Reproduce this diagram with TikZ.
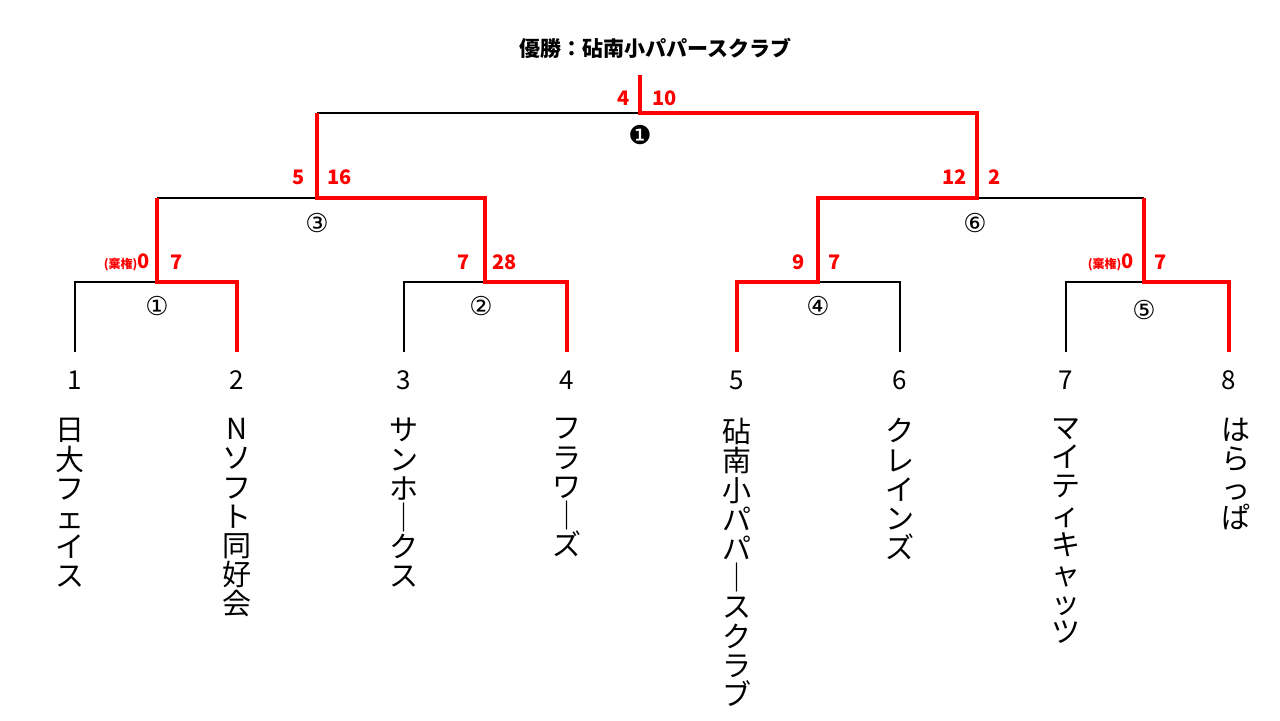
\documentclass[tikz,border=0pt]{standalone}
\usepackage{fontspec}
\setmainfont{Noto Sans CJK JP}
\newfontfamily\djv{DejaVu Sans}
\begin{document}
\begin{tikzpicture}[x=0.5pt,y=-0.5pt,
  bk/.style={line width=1.1pt,black},
  rd/.style={line width=1.6pt,red},
  sc/.style={text=red,font=\fontsize{10}{12}\selectfont\bfseries,inner sep=0pt},
  num/.style={font=\fontsize{13}{15}\selectfont,inner sep=0pt},
  cn/.style={font=\fontsize{13}{15}\selectfont,inner sep=0pt},
  team/.style={font=\fontsize{14.5}{14.6}\selectfont,align=center,anchor=north,inner sep=0pt}]
\useasboundingbox (0,0) rectangle (1280,720);
% leaves
\foreach \i/\x in {1/75,2/237,3/404,4/567,5/737,6/900,7/1066,8/1229}{
  \coordinate (t\i) at (\x,282); \coordinate (b\i) at (\x,352);
  \node[num] (n\i) at (\x,380) {\i};}
\coordinate (m1) at (157,282); \coordinate (m1u) at (157,198);
\coordinate (m2) at (485,282); \coordinate (m2u) at (485,198);
\coordinate (m4) at (818,282); \coordinate (m4u) at (818,198);
\coordinate (m5) at (1144,282); \coordinate (m5u) at (1144,198);
\coordinate (m3) at (317,198); \coordinate (m3u) at (317,113);
\coordinate (m6) at (977,198); \coordinate (m6u) at (977,113);
\coordinate (f) at (640,113); \coordinate (fu) at (640,75);
% black
\draw[bk] (b1)--(t1)--(m1);
\draw[bk] (b3)--(t3)--(m2);
\draw[bk] (m1u)--(m3);
\draw[bk] (m4)--(t6)--(b6);
\draw[bk] (b7)--(t7)--(m5);
\draw[bk] (m6)--(m5u);
\draw[bk] (m3u)--(f);
% red
\draw[rd] (b2)--(t2)--(m1)--(m1u);
\draw[rd] (b4)--(t4)--(m2)--(m2u)--(m3)--(m3u);
\draw[rd] (b5)--(t5)--(m4)--(m4u)--(m6)--(m6u)--(f)--(fu);
\draw[rd] (b8)--(t8)--(m5)--(m5u);
% match numbers
\node[cn] (c1) at (157,306) {\djv ①};
\node[cn] (c2) at (481,306) {\djv ②};
\node[cn] (c3) at (317,223) {\djv ③};
\node[cn] (c4) at (818,306) {\djv ④};
\node[cn] (c5) at (1144,310) {\djv ⑤};
\node[cn] (c6) at (975,223) {\djv ⑥};
\node[cn] (c7) at (640,135) {\djv ❶};
% scores
\node[sc,anchor=east] (s1) at (150,262) {{\fontsize{6}{7}\selectfont(棄権)}0};
\node[sc,anchor=west] (s2) at (170,262) {7};
\node[sc,anchor=east] (s3) at (470,262) {7};
\node[sc,anchor=west] (s4) at (492,262) {28};
\node[sc,anchor=east] (s5) at (805,262) {9};
\node[sc,anchor=west] (s6) at (828,262) {7};
\node[sc,anchor=east] (s7) at (1134,262) {{\fontsize{6}{7}\selectfont(棄権)}0};
\node[sc,anchor=west] (s8) at (1154,262) {7};
\node[sc,anchor=east] (s9) at (305,177) {5};
\node[sc,anchor=west] (s10) at (327,177) {16};
\node[sc,anchor=east] (s11) at (967,177) {12};
\node[sc,anchor=west] (s12) at (988,177) {2};
\node[sc,anchor=east] (s13) at (630,98) {4};
\node[sc,anchor=west] (s14) at (652,98) {10};
\node[font=\fontsize{10.5}{12}\selectfont\bfseries,inner sep=0pt] (title) at (655,48) {優勝：砧南小パパースクラブ};
% teams
\node[team] (w1) at (70,418) {日\\大\\フ\\ェ\\イ\\ス};
\node[team] (w2) at (237,418) {N\\ソ\\フ\\ト\\同\\好\\会};
\node[team] (w3) at (404,418) {サ\\ン\\ホ\\｜\\ク\\ス};
\node[team] (w4) at (567,418) {フ\\ラ\\ワ\\｜\\ズ};
\node[team] (w5) at (737,418) {砧\\南\\小\\パ\\パ\\｜\\ス\\ク\\ラ\\ブ};
\node[team] (w6) at (900,418) {ク\\レ\\イ\\ン\\ズ};
\node[team] (w7) at (1066,418) {マ\\イ\\テ\\ィ\\キ\\ャ\\ッ\\ツ};
\node[team] (w8) at (1236,418) {は\\ら\\っ\\ぱ};
\end{tikzpicture}
\end{document}
